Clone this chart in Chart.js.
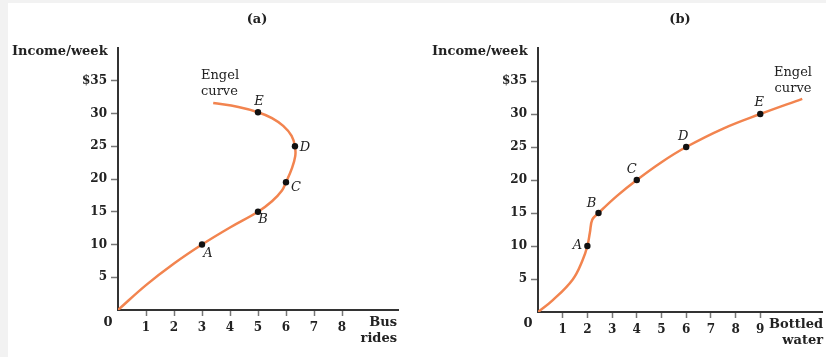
<!DOCTYPE html>
<html>
<head>
<meta charset="utf-8">
<script src="https://cdn.jsdelivr.net/npm/chart.js@4.4.1/dist/chart.umd.min.js"></script>
<style>
  body { margin: 0; background: #fff; width: 826px; height: 357px; position: relative; overflow: hidden; }
  .strip-top { position: absolute; left: 0; top: 0; width: 826px; height: 3px; background: #f2f2f2; }
  .strip-left { position: absolute; left: 0; top: 0; width: 8px; height: 357px; background: #f2f2f2; }
  canvas { position: absolute; top: 0; }
  #chartA { left: 0; }
  #chartB { left: 420px; }
</style>
</head>
<body>
<div class="strip-top"></div>
<div class="strip-left"></div>
<canvas id="chartA" width="420" height="357"></canvas>
<canvas id="chartB" width="406" height="357"></canvas>
<script>
// (a) Bus rides - Engel curve (traced) and labelled points
const busCurveX = [0, 1, 2, 3, 4, 5, 5.5, 5.85, 6, 6.2, 6.33, 6.32, 6.2, 5.9, 5.5, 5, 4.3, 3.4];
const busCurveY = [0, 3.8, 7.1, 10, 12.6, 15, 16.6, 18.2, 19.5, 21.5, 23.5, 25, 26.6, 28.1, 29.3, 30.2, 31, 31.6];
const busPointX = [3, 5, 6, 6.32, 5];
const busPointY = [10, 15, 19.5, 25, 30.2];
const busPointNames = ['A', 'B', 'C', 'D', 'E'];
const busTicksX = [1, 2, 3, 4, 5, 6, 7, 8];

// (b) Bottled water
const waterCurveX = [0, 0.6, 1.4, 1.8, 2, 2.1, 2.2, 2.45, 3.2, 4, 5, 6, 7.5, 9, 10.7];
const waterCurveY = [0, 1.8, 4.9, 7.8, 10, 12, 14, 15, 17.6, 20, 22.7, 25, 27.8, 30, 32.3];
const waterPointX = [2, 2.45, 4, 6, 9];
const waterPointY = [10, 15, 20, 25, 30];
const waterPointNames = ['A', 'B', 'C', 'D', 'E'];
const waterTicksX = [1, 2, 3, 4, 5, 6, 7, 8, 9];

const incomeTicks = [5, 10, 15, 20, 25, 30, 35];

const ORANGE = '#f2844f';
const SERIF = "'DejaVu Serif', 'Liberation Serif', serif";

function toXY(xs, ys) {
    return xs.map((x, i) => ({ x: x, y: ys[i] }));
}

// draws titles, axis names, "Engel curve" and point letters
const annotate = {
    id: 'annotate',
    afterDraw(chart, args, opts) {
        const ctx = chart.ctx;
        ctx.save();
        ctx.fillStyle = '#222';
        ctx.textBaseline = 'middle';
        (opts.texts || []).forEach(t => {
            ctx.font = t.font;
            ctx.textAlign = t.align || 'left';
            ctx.fillText(t.text, t.x, t.y);
        });
        const meta = chart.getDatasetMeta(1);
        ctx.font = "italic 13px " + SERIF;
        ctx.textAlign = 'center';
        meta.data.forEach((el, i) => {
            const off = opts.offsets[i];
            ctx.fillText(opts.names[i], el.x + off[0], el.y + off[1]);
        });
        ctx.restore();
    }
};

function makeChart(id, cfg) {
    const ctx = document.getElementById(id).getContext('2d');
    return new Chart(ctx, {
        type: 'scatter',
        data: {
            datasets: [
                {
                    data: toXY(cfg.curveX, cfg.curveY),
                    showLine: true,
                    borderColor: ORANGE,
                    borderWidth: 2.5,
                    pointRadius: 0,
                    tension: 0.4,
                    order: 2
                },
                {
                    data: toXY(cfg.pointX, cfg.pointY),
                    pointRadius: 3.2,
                    pointBackgroundColor: '#111',
                    pointBorderWidth: 0,
                    order: 1
                }
            ]
        },
        options: {
            responsive: false,
            animation: false,
            layout: { padding: { top: 48, right: cfg.padRight, left: 0, bottom: 0 } },
            plugins: {
                legend: { display: false },
                tooltip: { enabled: false },
                annotate: { texts: cfg.texts, names: cfg.names, offsets: cfg.offsets }
            },
            scales: {
                x: {
                    type: 'linear',
                    min: 0,
                    max: cfg.xMax,
                    afterBuildTicks: s => { s.ticks = cfg.ticksX.map(v => ({ value: v })); },
                    afterFit: s => { s.height = cfg.xHeight; },
                    grid: { drawOnChartArea: false, tickLength: 6, color: '#777', tickWidth: 1.5 },
                    border: { color: '#333', width: 2 },
                    ticks: { color: '#222', padding: 5, font: { family: SERIF, size: 12, weight: 'bold' } }
                },
                y: {
                    min: 0,
                    max: 40,
                    afterBuildTicks: s => { s.ticks = incomeTicks.map(v => ({ value: v })); },
                    afterFit: s => { s.width = 118; },
                    grid: { drawOnChartArea: false, tickLength: 7, color: '#777', tickWidth: 1.5 },
                    border: { color: '#333', width: 2 },
                    ticks: {
                        color: '#222',
                        padding: 4,
                        font: { family: SERIF, size: 12, weight: 'bold' },
                        callback: v => (v === 35 ? '$35' : String(v))
                    }
                }
            }
        },
        plugins: [annotate]
    });
}

const boldFont = "bold 13px " + SERIF;
const plainFont = "13px " + SERIF;

makeChart('chartA', {
    curveX: busCurveX, curveY: busCurveY,
    pointX: busPointX, pointY: busPointY,
    names: busPointNames,
    offsets: [[6, 9], [5, 8], [10, 5], [10, 1], [1, -11]],
    ticksX: busTicksX,
    xMax: 10, xHeight: 47, padRight: 22,
    texts: [
        { text: '(a)', x: 257, y: 20, font: boldFont, align: 'center' },
        { text: 'Income/week', x: 12, y: 52, font: boldFont },
        { text: '0', x: 108, y: 323, font: boldFont, align: 'center' },
        { text: 'Bus', x: 397, y: 323, font: boldFont, align: 'right' },
        { text: 'rides', x: 397, y: 339, font: boldFont, align: 'right' },
        { text: 'Engel', x: 201, y: 76, font: plainFont },
        { text: 'curve', x: 201, y: 92, font: plainFont }
    ]
});

makeChart('chartB', {
    curveX: waterCurveX, curveY: waterCurveY,
    pointX: waterPointX, pointY: waterPointY,
    names: waterPointNames,
    offsets: [[-10, 0], [-7, -9], [-5, -10], [-3, -10], [-1, -11]],
    ticksX: waterTicksX,
    xMax: 11.5, xHeight: 45, padRight: 3,
    texts: [
        { text: '(b)', x: 260, y: 20, font: boldFont, align: 'center' },
        { text: 'Income/week', x: 12, y: 52, font: boldFont },
        { text: '0', x: 108, y: 324, font: boldFont, align: 'center' },
        { text: 'Bottled', x: 403, y: 325, font: boldFont, align: 'right' },
        { text: 'water', x: 403, y: 341, font: boldFont, align: 'right' },
        { text: 'Engel', x: 373, y: 73, font: plainFont, align: 'center' },
        { text: 'curve', x: 373, y: 89, font: plainFont, align: 'center' }
    ]
});
</script>
</body>
</html>
